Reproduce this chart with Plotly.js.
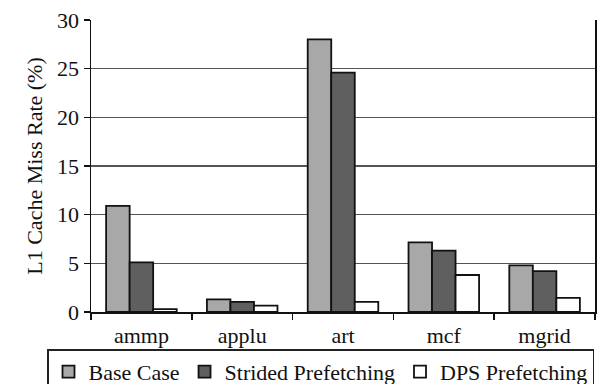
<!DOCTYPE html>
<html>
<head>
<meta charset="utf-8">
<script src="https://cdn.plot.ly/plotly-3.0.1.min.js"></script>
<style>html,body{margin:0;padding:0;background:#fff;}#chart{width:601px;height:384px;}</style>
</head>
<body>
<div id="chart"></div>
<script>
const categories = ["ammp", "applu", "art", "mcf", "mgrid"];
const baseCase = [10.9, 1.3, 28.0, 7.15, 4.8];
const strided = [5.1, 1.05, 24.6, 6.3, 4.2];
const dps = [0.3, 0.65, 1.05, 3.8, 1.45];
const seriesNames = ["Base Case", "Strided Prefetching", "DPS Prefetching"];
const yTicks = [0, 5, 10, 15, 20, 25, 30];

const serif = "Liberation Serif";
const line = {color: "#111", width: 1.8};

const traces = [
  {type: "bar", name: seriesNames[0], x: categories, y: baseCase, marker: {color: "#a8a8a8", line: line}},
  {type: "bar", name: seriesNames[1], x: categories, y: strided, marker: {color: "#5f5f5f", line: line}},
  {type: "bar", name: seriesNames[2], x: categories, y: dps, marker: {color: "#ffffff", line: line}}
];

const layout = {
  width: 601, height: 384,
  margin: {l: 91, r: 6, t: 20, b: 72, pad: 0, autoexpand: false},
  paper_bgcolor: "#fff", plot_bgcolor: "#fff",
  barmode: "group", bargap: 0.3, bargroupgap: 0,
  font: {family: serif, color: "#111", size: 22},
  xaxis: {
    type: "category", showline: true, linecolor: "#111", linewidth: 1.5,
    ticks: "outside", tickson: "boundaries", ticklen: 6, tickcolor: "#111", tickwidth: 1.5,
    showgrid: false, zeroline: false, automargin: false, ticklabelstandoff: 3,
    tickfont: {family: serif, size: 22, color: "#111"}
  },
  yaxis: {
    range: [0, 30], tickvals: yTicks, ticktext: yTicks.map(String),
    showline: true, mirror: true, linecolor: "#111", linewidth: 1.5,
    ticks: "outside", ticklen: 6, tickcolor: "#111", tickwidth: 1.5,
    showgrid: true, gridcolor: "#555", gridwidth: 1.2, zeroline: false, automargin: false,
    tickfont: {family: serif, size: 22, color: "#111"},
    title: {text: "L1 Cache Miss Rate (%)", font: {family: serif, size: 22, color: "#111"}, standoff: 8}
  },
  showlegend: true,
  legend: {
    orientation: "h", xref: "paper", yref: "paper",
    x: -0.0873, xanchor: "left", y: -0.128, yanchor: "top",
    bgcolor: "#fff", bordercolor: "#222", borderwidth: 1.5,
    font: {family: serif, size: 22, color: "#111"},
    itemwidth: 30, traceorder: "normal"
  }
};

Plotly.newPlot("chart", traces, layout, {displayModeBar: false, staticPlot: true});
</script>
</body>
</html>
